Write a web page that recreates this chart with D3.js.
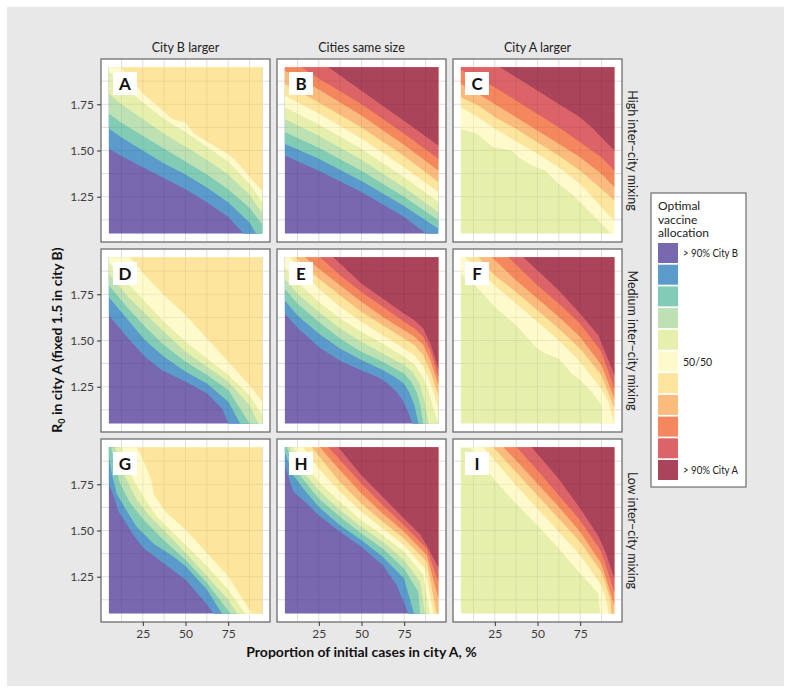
<!DOCTYPE html>
<html><head><meta charset="utf-8">
<script src="https://cdn.jsdelivr.net/npm/d3@7"></script>
<style>
body{margin:0;background:#fff;}
svg{display:block;font-family:'Source Sans Pro','Lato','Noto Sans',sans-serif;}
</style>
</head><body><svg id="chart" width="791" height="693"></svg>
<script>
// ---------------- data ----------------
const colTitles = ["City B larger", "Cities same size", "City A larger"];
const rowTitles = ["High inter\u2212city mixing", "Medium inter\u2212city mixing", "Low inter\u2212city mixing"];
const panelTags = ["A","B","C","D","E","F","G","H","I"];
const classColors = ["#7868b0","#5a9bcc","#82ccb6","#bde1b3","#e7efac","#fefacb","#fde59e","#fbbb7c","#f5875f","#dc6469","#a9445b"];
const legendLabels = ["> 90% City B","","","","","50/50","","","","","> 90% City A"];
const legendTitle = ["Optimal","vaccine","allocation"];
const xTicks = [25, 50, 75];
const yTicks = [1.25, 1.50, 1.75];
const xGrid = [12.5, 25, 37.5, 50, 62.5, 75, 87.5];
const yGrid = [1.125, 1.25, 1.375, 1.5, 1.625, 1.75, 1.875];
const xLabel = "Proportion of initial cases in city A, %";
// lowest allocation class present in each panel
const lowestClass = [0, 0, 4, 0, 0, 4, 0, 0, 4];
// class boundaries per panel: polyline [x %, R0]; boundary j separates class (lowest+j) and (lowest+j+1)
const boundsA = [
  [[5,1.51],[12.5,1.47],[25,1.41],[37.5,1.35],[50,1.29],[62.5,1.22],[75,1.14],[84,1.05],[86,1.02]],
  [[5,1.62],[12.5,1.57],[25,1.50],[37.5,1.43],[50,1.37],[62.5,1.30],[75,1.22],[87.5,1.11],[92,1.04]],
  [[5,1.70],[12.5,1.65],[25,1.58],[37.5,1.51],[50,1.44],[62.5,1.37],[75,1.29],[87.5,1.19],[95,1.10]],
  [[5,1.81],[12.5,1.75],[25,1.67],[37.5,1.59],[50,1.52],[62.5,1.45],[75,1.37],[87.5,1.26],[95,1.16]],
  [[5,1.93],[12.5,1.86],[25,1.76],[37.5,1.67],[50,1.60],[62.5,1.52],[75,1.44],[87.5,1.32],[95,1.22]],
  [[5,2.02],[11,1.96],[25,1.81],[37.5,1.71],[42,1.67],[50,1.65],[55,1.59],[75,1.48],[79,1.45],[95,1.28]]
];
const boundsB = [
  [[5,1.473],[25,1.39],[50,1.275],[75,1.14],[88,1.05],[92,1.0]],
  [[5,1.536],[25,1.455],[50,1.335],[75,1.20],[95,1.077]],
  [[5,1.60],[25,1.515],[50,1.39],[75,1.25],[95,1.122]],
  [[5,1.671],[25,1.58],[50,1.45],[75,1.30],[95,1.167]],
  [[5,1.734],[25,1.64],[50,1.51],[75,1.355],[95,1.221]],
  [[5,1.797],[25,1.70],[50,1.565],[75,1.41],[95,1.275]],
  [[5,1.86],[25,1.76],[50,1.625],[75,1.47],[95,1.329]],
  [[5,1.932],[25,1.83],[50,1.69],[75,1.53],[95,1.392]],
  [[5,2.01],[15,1.95],[25,1.89],[50,1.75],[75,1.59],[95,1.455]],
  [[5,2.12],[30.6,1.95],[50,1.823],[75,1.66],[95,1.527]]
];
const boundsC = [
  [[5,1.617],[14.4,1.59],[24.1,1.518],[34.9,1.50],[38.8,1.464],[46.6,1.419],[54.4,1.392],[62.2,1.32],[70,1.266],[77.8,1.194],[85.6,1.122],[93.4,1.05],[95,1.03]],
  [[5,1.734],[15.3,1.68],[25.1,1.617],[36.8,1.554],[49.9,1.482],[62.4,1.41],[74.9,1.32],[87.4,1.194],[95,1.12]],
  [[5,1.788],[15.3,1.743],[25.1,1.68],[37.4,1.617],[49.9,1.545],[62.4,1.473],[74.9,1.392],[87.4,1.293],[95,1.23]],
  [[5,1.86],[15.3,1.806],[24.9,1.752],[37.4,1.68],[49.9,1.608],[62.4,1.536],[74.9,1.464],[87.4,1.374],[95,1.302]],
  [[5,1.936],[12.4,1.905],[24.9,1.842],[37.4,1.77],[49.9,1.698],[62.4,1.626],[74.9,1.545],[87.4,1.464],[95,1.392]],
  [[5,2.09],[28,1.95],[37.4,1.896],[49.9,1.824],[62.4,1.752],[74.9,1.68],[81.7,1.626],[87.4,1.572],[95,1.50]]
];
const boundsD = [
  [[5,1.637],[16.5,1.511],[26.3,1.412],[36,1.34],[50.1,1.277],[62.6,1.214],[71.2,1.133],[75.1,1.052],[76,1.03]],
  [[5,1.736],[16.5,1.61],[26.3,1.502],[37.4,1.412],[50.1,1.331],[62.6,1.268],[75.1,1.169],[81.9,1.052],[83,1.03]],
  [[5,1.799],[16.5,1.673],[26.3,1.574],[37.4,1.475],[50.1,1.385],[62.6,1.313],[75.1,1.232],[87.4,1.052],[88,1.03]],
  [[5,1.862],[16.5,1.736],[26.3,1.646],[37.4,1.547],[50.1,1.439],[62.6,1.358],[75.1,1.277],[87.4,1.151],[92.6,1.052],[93,1.03]],
  [[5,1.925],[16.5,1.808],[26.3,1.709],[37.4,1.601],[50.1,1.493],[62.6,1.403],[75.1,1.313],[87.4,1.205],[95,1.097]],
  [[10,2.03],[17.5,1.95],[26.3,1.853],[37.4,1.745],[50.1,1.637],[62.6,1.511],[75.1,1.385],[87.4,1.259],[95,1.169]]
];
const boundsE = [
  [[5,1.646],[12.4,1.57],[25.7,1.46],[37.4,1.39],[50.4,1.336],[60.2,1.30],[65,1.27],[70,1.228],[74,1.18],[77,1.12],[79.8,1.052],[80.5,1.03]],
  [[5,1.718],[12.4,1.637],[24.9,1.538],[37.4,1.457],[49.9,1.394],[62.4,1.34],[70,1.30],[74.5,1.27],[78,1.22],[81,1.15],[83.3,1.052],[83.8,1.03]],
  [[5,1.781],[12.4,1.70],[24.9,1.601],[37.4,1.511],[49.9,1.439],[62.4,1.385],[74.9,1.322],[79,1.28],[82.3,1.22],[84.5,1.15],[86.2,1.052],[86.6,1.03]],
  [[5,1.835],[12.4,1.754],[24.9,1.655],[37.4,1.565],[49.9,1.493],[62.4,1.43],[74.9,1.367],[80,1.33],[84.3,1.26],[87,1.17],[89.1,1.052],[89.5,1.03]],
  [[5,1.898],[12.4,1.817],[24.9,1.709],[37.4,1.619],[49.9,1.547],[62.4,1.484],[74.9,1.412],[81,1.37],[86.2,1.30],[89.5,1.22],[92.1,1.133],[95,1.052],[95.5,1.03]],
  [[5,1.963],[8.1,1.95],[12.4,1.898],[24.9,1.781],[37.4,1.682],[49.9,1.601],[62.4,1.529],[74.9,1.457],[81,1.42],[86.2,1.36],[90.5,1.27],[95,1.133]],
  [[5,2.03],[11.1,1.95],[24.9,1.835],[37.4,1.745],[49.9,1.655],[62.4,1.583],[74.9,1.511],[81,1.475],[86.2,1.42],[90.5,1.33],[95,1.205]],
  [[5,2.05],[16.9,1.95],[24.9,1.889],[37.4,1.799],[49.9,1.709],[62.4,1.628],[74.9,1.556],[81,1.52],[86.2,1.475],[90.5,1.39],[95,1.259]],
  [[5,2.15],[25.7,1.95],[37.4,1.853],[49.9,1.763],[62.4,1.682],[74.9,1.601],[81,1.565],[86.2,1.52],[90.5,1.44],[95,1.304]],
  [[5,2.2],[33.5,1.95],[49.9,1.808],[62.4,1.727],[74.9,1.646],[81,1.61],[86.2,1.565],[90.5,1.48],[95,1.349]]
];
const boundsF = [
  [[5,1.862],[12.4,1.808],[24.9,1.682],[37.4,1.583],[49.9,1.457],[54.4,1.43],[62.4,1.403],[70,1.322],[74.9,1.286],[81.7,1.223],[87.4,1.151],[87.6,1.03]],
  [[5,1.98],[7.5,1.95],[12.4,1.907],[24.9,1.799],[37.4,1.70],[49.9,1.601],[62.4,1.502],[74.9,1.385],[87.4,1.241],[91.5,1.169],[95,1.052],[95.5,1.03]],
  [[5,2.0],[15.3,1.95],[24.9,1.853],[37.4,1.763],[49.9,1.664],[62.4,1.565],[74.9,1.457],[87.4,1.313],[95,1.133]],
  [[5,2.1],[23.2,1.95],[37.4,1.826],[49.9,1.727],[62.4,1.628],[74.9,1.52],[87.4,1.367],[95,1.187]],
  [[5,2.2],[32.9,1.95],[49.9,1.799],[62.4,1.70],[74.9,1.592],[87.4,1.439],[95,1.241]],
  [[5,2.3],[41.7,1.95],[49.9,1.88],[62.4,1.772],[74.9,1.646],[85.6,1.529],[95,1.313]]
];
const boundsG = [
  [[5,1.756],[8.7,1.666],[10.7,1.603],[14.6,1.549],[19.4,1.477],[25.3,1.405],[37,1.324],[50.1,1.234],[62.6,1.099],[66.3,1.052],[67,1.03]],
  [[5,1.90],[6.8,1.81],[9.7,1.70],[14.6,1.62],[21.4,1.52],[31.2,1.43],[42.9,1.36],[50.1,1.306],[62.6,1.18],[71.2,1.052],[72,1.03]],
  [[5,2.0],[6.4,1.95],[8.7,1.864],[11.6,1.756],[17.5,1.65],[25.3,1.56],[37,1.45],[50.1,1.34],[62.6,1.216],[76.1,1.052],[77,1.03]],
  [[5,2.05],[8.7,1.95],[11.6,1.864],[15.5,1.774],[21.4,1.666],[29.2,1.576],[39,1.486],[50.1,1.378],[62.6,1.252],[75.1,1.126],[80,1.052],[81,1.03]],
  [[5,2.1],[12.6,1.95],[15.5,1.864],[19.4,1.774],[25.3,1.684],[33.1,1.576],[42.9,1.486],[50.1,1.423],[62.6,1.306],[75.1,1.18],[84.8,1.052],[86,1.03]],
  [[5,2.2],[21.4,1.95],[25.3,1.882],[30.2,1.765],[31.5,1.693],[39,1.594],[50.1,1.504],[62.6,1.378],[75.1,1.252],[88.7,1.052],[90,1.03]]
];
const boundsH = [
  [[5,1.862],[8.1,1.763],[10.1,1.709],[15.9,1.664],[24.9,1.583],[37.4,1.493],[49.9,1.412],[62.4,1.313],[70.6,1.205],[77.4,1.052],[78,1.03]],
  [[5,1.925],[10.1,1.799],[15.9,1.727],[24.9,1.628],[37.4,1.529],[49.9,1.448],[62.4,1.358],[74.9,1.241],[80.7,1.052],[81.2,1.03]],
  [[5,1.99],[6.2,1.95],[12.4,1.817],[24.9,1.673],[37.4,1.574],[49.9,1.484],[62.4,1.403],[74.9,1.295],[83.3,1.169],[84.3,1.052],[84.6,1.03]],
  [[5,2.0],[7.7,1.95],[15.9,1.817],[24.9,1.718],[37.4,1.61],[49.9,1.52],[62.4,1.439],[74.9,1.34],[84.3,1.223],[87.2,1.052],[87.5,1.03]],
  [[5,2.05],[10.1,1.95],[24.9,1.763],[37.4,1.655],[49.9,1.556],[62.4,1.475],[74.9,1.385],[86.2,1.259],[90.1,1.052],[90.4,1.03]],
  [[5,2.1],[15.9,1.95],[24.9,1.835],[37.4,1.709],[49.9,1.601],[62.4,1.511],[74.9,1.421],[87.2,1.295],[92.1,1.052],[92.4,1.03]],
  [[5,2.15],[20.8,1.95],[37.4,1.763],[49.9,1.646],[62.4,1.547],[74.9,1.457],[88.2,1.331],[94,1.052],[94.3,1.03]],
  [[5,2.2],[25.7,1.95],[37.4,1.826],[49.9,1.70],[62.4,1.592],[74.9,1.493],[88.2,1.367],[95,1.133]],
  [[5,2.25],[30.6,1.95],[49.9,1.754],[62.4,1.637],[74.9,1.529],[88.2,1.403],[95,1.223]],
  [[5,2.3],[36.4,1.95],[49.9,1.799],[62.4,1.682],[74.9,1.565],[84.3,1.48],[88.2,1.42],[95,1.30]]
];
const boundsI = [
  [[5,2.0],[10.5,1.95],[24.9,1.772],[37.4,1.646],[49.9,1.529],[62.4,1.403],[74.9,1.268],[85.6,1.16],[86.6,1.052],[86.8,1.03]],
  [[5,2.1],[18.3,1.95],[24.9,1.88],[37.4,1.745],[49.9,1.619],[62.4,1.493],[74.9,1.367],[87.4,1.205],[90.5,1.115],[91.5,1.052],[91.8,1.03]],
  [[5,2.2],[24.1,1.95],[37.4,1.817],[49.9,1.691],[62.4,1.565],[74.9,1.439],[87.4,1.277],[92.5,1.133],[93.4,1.052],[93.6,1.03]],
  [[5,2.25],[30,1.95],[37.4,1.88],[49.9,1.754],[62.4,1.628],[74.9,1.493],[87.4,1.322],[95,1.097]],
  [[5,2.35],[37.8,1.95],[49.9,1.826],[62.4,1.691],[74.9,1.556],[87.4,1.385],[95,1.169]],
  [[5,2.45],[46.6,1.95],[62.4,1.78],[74.9,1.62],[85.6,1.47],[90,1.38],[95,1.24]]
];
const panelBounds = [boundsA, boundsB, boundsC, boundsD, boundsE, boundsF, boundsG, boundsH, boundsI];

// ---------------- layout ----------------
const svg = d3.select("#chart");
svg.append("rect").attr("x",7).attr("y",7).attr("width",777).attr("height",679).attr("fill","#e8e8e8");

const panelLeft = [101, 277, 453], panelTop = [59, 249, 439];
const PW = 169, PH = 183;
const x = d3.scaleLinear().domain([0.5, 99.5]).range([0, PW]);
const y = d3.scaleLinear().domain([1.005, 1.995]).range([PH, 0]);
const line = d3.line().x(d => x(d[0])).y(d => y(d[1]));
const textCol = "#3c3c3c";

svg.append("defs").append("clipPath").attr("id","dataclip")
  .append("rect").attr("x", x(5)).attr("y", y(1.95))
  .attr("width", x(95) - x(5)).attr("height", y(1.05) - y(1.95));

panelBounds.forEach((bounds, i) => {
  const r = Math.floor(i / 3), c = i % 3;
  const g = svg.append("g").attr("transform", `translate(${panelLeft[c]},${panelTop[r]})`);
  g.append("rect").attr("width", PW).attr("height", PH).attr("fill", "#fff");
  const grid = g.append("g");
  xGrid.forEach(v => grid.append("line").attr("x1", x(v)).attr("x2", x(v)).attr("y1", 0).attr("y2", PH)
      .attr("stroke", "#dadada").attr("stroke-width", 0.9));
  yGrid.forEach(v => grid.append("line").attr("y1", y(v)).attr("y2", y(v)).attr("x1", 0).attr("x2", PW)
      .attr("stroke", "#dadada").attr("stroke-width", 0.9));

  const fills = g.append("g").attr("clip-path", "url(#dataclip)");
  const low = lowestClass[i];
  fills.append("rect").attr("x", x(5)).attr("y", y(1.95))
    .attr("width", x(95) - x(5)).attr("height", y(1.05) - y(1.95)).attr("fill", classColors[low]);
  bounds.forEach((pts, j) => {
    const first = pts[0], last = pts[pts.length - 1];
    const poly = pts.concat([[200, last[1]], [200, 10], [first[0], 10]]);
    fills.append("path").attr("d", line(poly) + "Z").attr("fill", classColors[low + j + 1]);
  });
  // faint grid showing through the fill
  const g2 = g.append("g").attr("clip-path", "url(#dataclip)");
  xGrid.forEach(v => g2.append("line").attr("x1", x(v)).attr("x2", x(v)).attr("y1", 0).attr("y2", PH)
      .attr("stroke", "#000").attr("stroke-opacity", 0.07).attr("stroke-width", 0.9));
  yGrid.forEach(v => g2.append("line").attr("y1", y(v)).attr("y2", y(v)).attr("x1", 0).attr("x2", PW)
      .attr("stroke", "#000").attr("stroke-opacity", 0.07).attr("stroke-width", 0.9));

  // tag
  g.append("rect").attr("x", 12).attr("y", 13).attr("width", 24).attr("height", 23).attr("fill", "#fff");
  g.append("text").attr("x", 24).attr("y", 31).attr("text-anchor", "middle")
    .attr("font-size", 17).attr("font-weight", "bold").attr("fill", "#111").text(panelTags[i]);

  g.append("rect").attr("width", PW).attr("height", PH).attr("fill", "none")
    .attr("stroke", "#6e6e6e").attr("stroke-width", 1.3);

  if (c === 0) {
    const ax = g.append("g").call(d3.axisLeft(y).tickValues(yTicks).tickFormat(d3.format(".2f")).tickSize(4).tickPadding(3));
    ax.select(".domain").remove();
    ax.selectAll("line").attr("stroke", "#333");
    ax.selectAll("text").attr("font-size", 12).attr("fill", textCol).attr("font-family", "'Source Sans Pro','Lato',sans-serif");
  }
  if (r === 2) {
    const ax = g.append("g").attr("transform", `translate(0,${PH})`)
      .call(d3.axisBottom(x).tickValues(xTicks).tickSize(4).tickPadding(3));
    ax.select(".domain").remove();
    ax.selectAll("line").attr("stroke", "#333");
    ax.selectAll("text").attr("font-size", 12).attr("fill", textCol).attr("font-family", "'Source Sans Pro','Lato',sans-serif");
  }
  if (r === 0) {
    svg.append("text").attr("x", panelLeft[c] + PW / 2).attr("y", 52).attr("text-anchor", "middle")
      .attr("font-size", 12.5).attr("fill", "#222").text(colTitles[c]);
  }
  if (c === 2) {
    svg.append("text").attr("transform", `translate(628,${panelTop[r] + PH / 2}) rotate(90)`)
      .attr("text-anchor", "middle").attr("font-size", 12.5).attr("fill", "#222").text(rowTitles[r]);
  }
});

// axis titles
svg.append("text").attr("x", 361.5).attr("y", 657).attr("text-anchor", "middle")
  .attr("font-size", 14).attr("font-weight", "bold").attr("fill", "#111").text(xLabel);
const yt = svg.append("text").attr("transform", "translate(62,340) rotate(-90)").attr("text-anchor", "middle")
  .attr("font-size", 14).attr("font-weight", "bold").attr("fill", "#111");
yt.append("tspan").text("R");
yt.append("tspan").attr("font-size", 9).attr("dy", 3).text("0");
yt.append("tspan").attr("dy", -3).text(" in city A (fixed 1.5 in city B)");

// legend
const lg = svg.append("g").attr("transform", "translate(651,193)");
lg.append("rect").attr("width", 95).attr("height", 294).attr("fill", "#fff").attr("stroke", "#6e6e6e").attr("stroke-width", 1.2);
legendTitle.forEach((t, k) => lg.append("text").attr("x", 7).attr("y", 17 + k * 13.5)
  .attr("font-size", 12).attr("fill", "#222").text(t));
classColors.forEach((col, k) => {
  lg.append("rect").attr("x", 7).attr("y", 50 + k * 21.7).attr("width", 20).attr("height", 20).attr("fill", col);
  if (legendLabels[k]) {
    const t = lg.append("text").attr("x", 32).attr("y", 50 + k * 21.7 + 14)
      .attr("font-size", 10.5).attr("fill", "#222").text(legendLabels[k]);
    if (legendLabels[k].length > 6) t.attr("textLength", 55).attr("lengthAdjust", "spacingAndGlyphs");
  }
});
</script>
</body></html>
